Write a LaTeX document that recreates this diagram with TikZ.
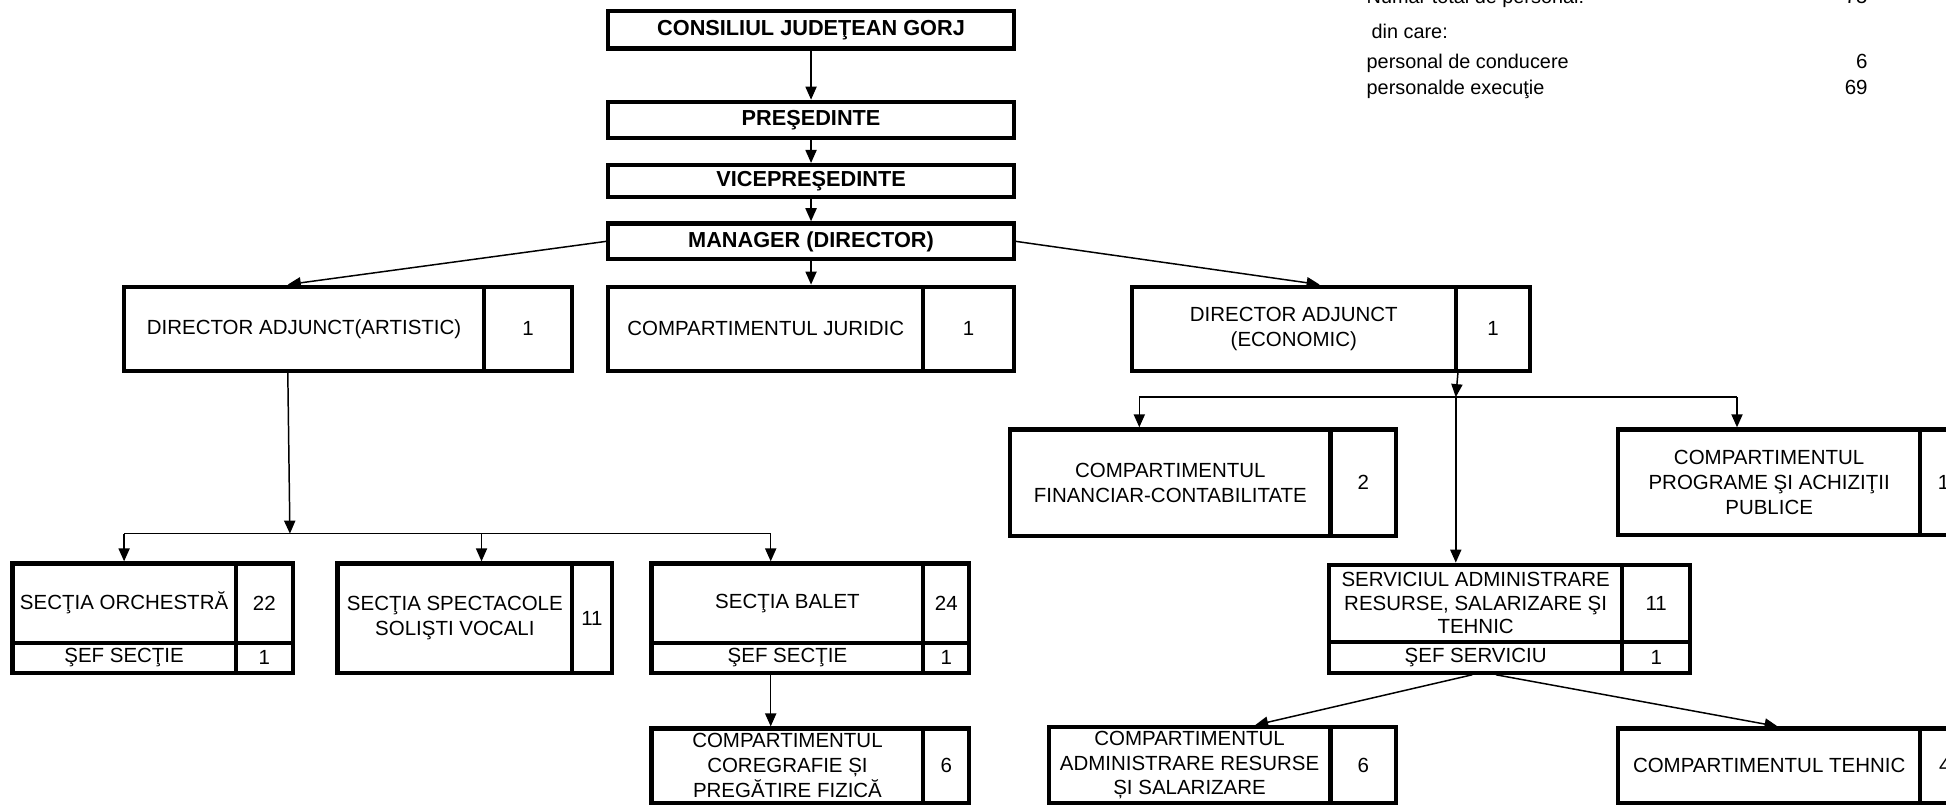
\documentclass[tikz,border=0pt]{standalone}
\usepackage{fontspec}
\setmainfont{Liberation Sans}
\usetikzlibrary{arrows.meta,calc}
\tikzset{
 cellbox/.style={draw, line width=3.4pt, inner sep=0pt, align=center, font=\fontsize{16.5}{20}\selectfont},
 topbox/.style={cellbox, font=\bfseries\fontsize{17.5}{20}\selectfont},
 conn/.style={line width=1.2pt, -{Triangle[length=10.5pt,width=9pt]}},
 busline/.style={line width=1.2pt},
 info/.style={inner sep=0pt, font=\fontsize{16}{18}\selectfont},
 infonum/.style={inner sep=0pt, font=\fontsize{16.5}{18}\selectfont},
}
\newcommand\mkcell[7][]{\node[cellbox,#1, minimum width={(#5-#3)*1pt}, minimum height={(#6-#4)*1pt}] (#2) at ({(#3+#5)/2},{(#4+#6)/2}) {#7};}
\begin{document}
\begin{tikzpicture}[x=1pt,y=-1pt]
\fill[white] (0,0) rectangle (1568,649.4);
\clip (0,0) rectangle (1568,649.4);
% info block
\node[info, anchor=base west] (tot) at (1101,3) {Număr total de personal:};
\node[infonum, anchor=base east] (totn) at (1505,3) {75};
\node[info, anchor=base west] (din) at (1105,31) {din care:};
\node[info, anchor=base west] (cond) at (1101,55) {personal de conducere};
\node[infonum, anchor=base east] (condn) at (1505,55) {6};
\node[info, anchor=base west] (exec) at (1101,76) {personalde execuţie};
\node[infonum, anchor=base east] (execn) at (1505,76) {69};
% top chain
\mkcell[topbox]{cons}{490}{9}{817}{39}{CONSILIUL JUDEŢEAN GORJ}
\mkcell[topbox]{pres}{490}{82}{817}{111}{PREŞEDINTE}
\mkcell[topbox]{vice}{490}{133}{817}{159}{VICEPREŞEDINTE}
\mkcell[topbox]{mgr}{490}{180}{817}{209}{MANAGER (DIRECTOR)}
% second row
\mkcell{artT}{100}{231}{390}{299}{DIRECTOR ADJUNCT(ARTISTIC)}
\mkcell{artN}{390}{231}{461}{299}{1}
\mkcell{jurT}{490}{231}{744}{299}{COMPARTIMENTUL JURIDIC}
\mkcell{jurN}{744}{231}{817}{299}{1}
\mkcell{ecoT}{912}{231}{1173}{299}{DIRECTOR ADJUNCT\\(ECONOMIC)}
\mkcell{ecoN}{1173}{231}{1233}{299}{1}
% left sections
\mkcell{orchT}{10}{454}{190}{518}{SECŢIA ORCHESTRĂ}
\mkcell{orchN}{190}{454}{236}{518}{22}
\mkcell{orchS}{10}{518}{190}{542}{ŞEF SECŢIE}
\mkcell{orchSN}{190}{518}{236}{542}{1}
\mkcell{specT}{272}{454}{461}{542}{SECŢIA SPECTACOLE\\SOLIŞTI VOCALI}
\mkcell{specN}{461}{454}{493}{542}{11}
\mkcell{balT}{525}{454}{744}{518}{SECŢIA BALET}
\mkcell{balN}{744}{454}{781}{518}{24}
\mkcell{balS}{525}{518}{744}{542}{ŞEF SECŢIE}
\mkcell{balSN}{744}{518}{781}{542}{1}
\mkcell{corT}{525}{587}{744}{647}{COMPARTIMENTUL\\COREGRAFIE ȘI\\PREGĂTIRE FIZICĂ}
\mkcell{corN}{744}{587}{781}{647}{6}
% right side
\mkcell{finT}{814}{346}{1072}{432}{COMPARTIMENTUL\\FINANCIAR-CONTABILITATE}
\mkcell{finN}{1072}{346}{1125}{432}{2}
\mkcell{progT}{1304}{346}{1547}{431}{COMPARTIMENTUL\\PROGRAME ŞI ACHIZIŢII\\PUBLICE}
\mkcell{progN}{1547}{346}{1585}{431}{1}
\mkcell[font=\fontsize{16.5}{19}\selectfont]{servT}{1071}{455}{1307}{517}{SERVICIUL ADMINISTRARE\\RESURSE, SALARIZARE ŞI\\TEHNIC}
\mkcell{servN}{1307}{455}{1362}{517}{11}
\mkcell{servS}{1071}{517}{1307}{542}{ŞEF SERVICIU}
\mkcell{servSN}{1307}{517}{1362}{542}{1}
\mkcell{admT}{845}{586}{1072}{647}{COMPARTIMENTUL\\ADMINISTRARE RESURSE\\ȘI SALARIZARE}
\mkcell{admN}{1072}{586}{1125}{647}{6}
\mkcell{tehT}{1304}{587}{1547}{647}{COMPARTIMENTUL TEHNIC}
\mkcell{tehN}{1547}{587}{1587}{647}{4}
% connectors top
\draw[conn] (cons.south) -- (pres.north);
\draw[conn] (pres.south) -- (vice.north);
\draw[conn] (vice.south) -- (mgr.north);
\draw[conn] (mgr.south) -- (mgr.south |- jurT.north);
\draw[conn] (mgr.west) -- ([xshift=133.6pt]artT.north west);
\draw[conn] (mgr.east) -- ([xshift=153pt]ecoT.north west);
% left bus
\coordinate (lbus) at (233.6,430);
\coordinate (lbusL) at (100,430);
\coordinate (lbusM) at (388,430);
\coordinate (lbusR) at (621,430);
\draw[conn] ([xshift=133.6pt]artT.south west) -- (lbus);
\draw[busline] (lbusL) -- (lbusR);
\draw[conn] (lbusL) -- (lbusL |- orchT.north);
\draw[conn] (lbusM) -- (lbusM |- specT.north);
\draw[conn] (lbusR) -- (lbusR |- balT.north);
\draw[conn] (lbusR |- balS.south) -- (lbusR |- corT.north);
% right bus
\coordinate (rbus) at (1173,320);
\coordinate (rbusL) at (918,320);
\coordinate (rbusR) at (1399.6,320);
\draw[conn] (ecoT.south east) -- (rbus);
\draw[busline] (rbusL) -- (rbusR);
\draw[conn] (rbusL) -- (rbusL |- finT.north);
\draw[conn] (rbusR) -- (rbusR |- progT.north);
\draw[conn] (rbus) -- (rbus |- servT.north);
\draw[conn] ([xshift=117pt]servS.south west) -- ([xshift=168pt]admT.north west);
\draw[conn] ([xshift=136pt]servS.south west) -- ([xshift=130pt]tehT.north west);
\end{tikzpicture}
\end{document}
